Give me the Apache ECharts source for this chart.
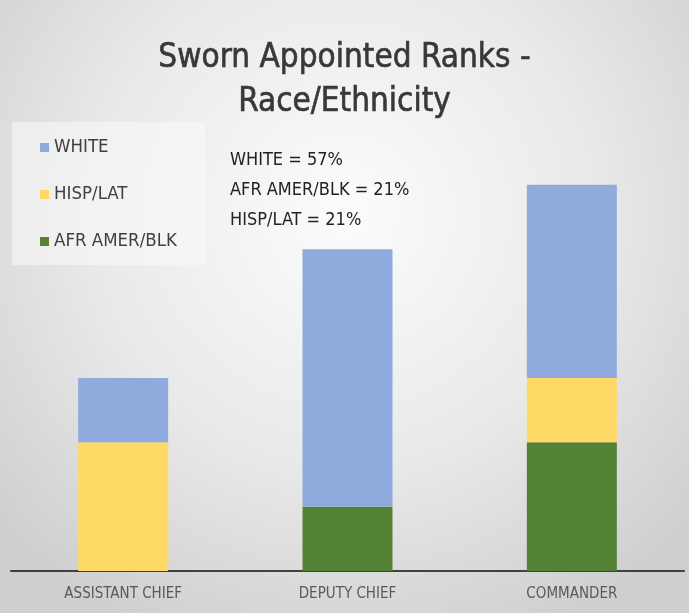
<!DOCTYPE html>
<html>
<head>
<meta charset="utf-8">
<script src="https://cdn.jsdelivr.net/npm/echarts@6/dist/echarts.min.js"></script>
<style>
  html, body { margin: 0; padding: 0; }
  #chart { width: 689px; height: 613px; }
</style>
</head>
<body>
<div id="chart"></div>
<script>
const ranks = ['ASSISTANT CHIEF', 'DEPUTY CHIEF', 'COMMANDER'];
const afrBlk = [0, 1, 2];
const hispLat = [2, 0, 1];
const white = [1, 4, 3];
const notes = ['WHITE = 57%', 'AFR AMER/BLK = 21%', 'HISP/LAT = 21%'];

const font = '"DejaVu Sans Condensed", "Liberation Sans Narrow", sans-serif';

const chart = echarts.init(document.getElementById('chart'));

chart.setOption({
  backgroundColor: {
    type: 'radial', x: 0.5, y: 0.35, r: 0.75,
    colorStops: [
      { offset: 0, color: '#fcfcfc' },
      { offset: 0.55, color: '#e9e9e9' },
      { offset: 1, color: '#cfcfcf' },
    ],
  },
  title: {
    text: 'Sworn Appointed Ranks -\nRace/Ethnicity',
    left: 'center',
    top: 31,
    textStyle: {
      fontFamily: font,
      fontSize: 33,
      fontWeight: 'normal',
      color: '#383838',
      lineHeight: 44,
      textBorderColor: '#383838',
      textBorderWidth: 0.6,
    },
  },
  legend: {
    orient: 'vertical',
    left: 12,
    top: 122,
    data: ['WHITE', 'HISP/LAT', 'AFR AMER/BLK'],
    icon: 'rect',
    itemWidth: 9,
    itemHeight: 9,
    itemGap: 28,
    padding: [16, 1, 14, 28],
    backgroundColor: 'rgba(250,250,250,0.55)',
    textStyle: { fontFamily: font, fontSize: 18.5, lineHeight: 19, color: '#404040', width: 150 },
  },
  graphic: notes.map((t, i) => ({
    type: 'text',
    left: 230,
    top: 151 + i * 30,
    style: { text: t, fontFamily: font, fontSize: 18, fill: '#222' },
  })),
  grid: { left: 11, right: 5, top: 56, bottom: 42 },
  xAxis: {
    type: 'category',
    data: ranks,
    axisLine: { lineStyle: { color: '#404040', width: 2 } },
    axisTick: { show: false },
    axisLabel: { fontFamily: font, fontSize: 15, color: '#595959', margin: 16 },
  },
  yAxis: {
    type: 'value',
    min: 0,
    max: 8,
    show: false,
    splitLine: { show: false },
  },
  series: [
    { name: 'AFR AMER/BLK', type: 'bar', stack: 'r', data: afrBlk, barWidth: 90, itemStyle: { color: '#548235' } },
    { name: 'HISP/LAT', type: 'bar', stack: 'r', data: hispLat, itemStyle: { color: '#ffd966' } },
    { name: 'WHITE', type: 'bar', stack: 'r', data: white, itemStyle: { color: '#8faadc' } },
  ],
});
</script>
</body>
</html>
